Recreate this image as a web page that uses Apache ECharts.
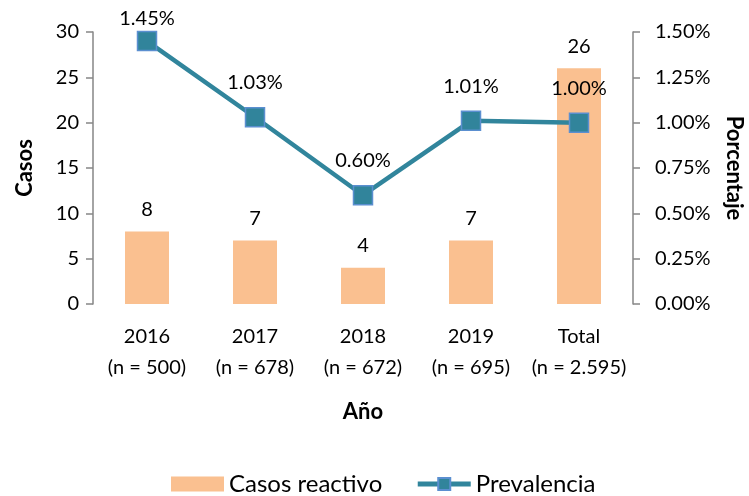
<!DOCTYPE html>
<html>
<head>
<meta charset="utf-8">
<script src="https://cdn.jsdelivr.net/npm/echarts@6/dist/echarts.min.js"></script>
<style>
  html, body { margin: 0; padding: 0; background: #fff; }
  #chart { width: 749px; height: 496px; }
</style>
</head>
<body>
<div id="chart"></div>
<script>
// Categories, sample sizes and values
const years = ['2016', '2017', '2018', '2019', 'Total'];
const sampleSizes = ['500', '678', '672', '695', '2.595'];
const casosReactivo = [8, 7, 4, 7, 26];
const prevalencia = [1.45, 1.03, 0.60, 1.01, 1.00];

const FONT = 'Lato';
const categories = years.map((y, i) => y + '\n(n = ' + sampleSizes[i] + ')');

// The first point sits at the top of the plot, so its label hugs the marker
const prevalenciaData = prevalencia.map((v, i) =>
  i === 0 ? { value: v, label: { distance: 2 } } : v
);

const chart = echarts.init(document.getElementById('chart'));
chart.setOption({
  animation: false,
  textStyle: { fontFamily: FONT, color: '#000' },
  grid: {
    left: 93, right: 116, top: 32, bottom: 192,
    containLabel: false,
    outerBoundsMode: 'none'
  },
  legend: {
    top: 472,
    left: 171,
    padding: 0,
    itemGap: 33,
    itemWidth: 53,
    itemHeight: 15,
    textStyle: { fontFamily: FONT, fontSize: 24, lineHeight: 24, color: '#000' },
    data: [
      { name: 'Casos reactivo', icon: 'rect' },
      { name: 'Prevalencia', lineStyle: { width: 5 } }
    ]
  },
  xAxis: {
    type: 'category',
    data: categories,
    name: 'Año',
    nameLocation: 'middle',
    nameGap: 97,
    nameTextStyle: { fontFamily: FONT, fontSize: 22, fontWeight: 'bold', color: '#000' },
    axisLine: { show: false },
    axisTick: { show: false },
    axisLabel: { interval: 0, fontFamily: FONT, fontSize: 20, color: '#000', lineHeight: 31, margin: 17 }
  },
  yAxis: [
    {
      type: 'value',
      min: 0, max: 30, interval: 5,
      name: 'Casos',
      nameLocation: 'middle',
      nameGap: 57,
      nameRotate: 90,
      nameTextStyle: { fontFamily: FONT, fontSize: 22, fontWeight: 'bold', color: '#000' },
      axisLine: { show: true, lineStyle: { color: '#868686', width: 1.5 } },
      axisTick: { show: true, length: 7, lineStyle: { color: '#868686', width: 1.5 } },
      splitLine: { show: false },
      axisLabel: { fontFamily: FONT, fontSize: 20, color: '#000', margin: 14 }
    },
    {
      type: 'value',
      min: 0, max: 1.5, interval: 0.25,
      name: 'Porcentaje',
      nameLocation: 'middle',
      nameGap: 90,
      nameRotate: -90,
      nameTextStyle: { fontFamily: FONT, fontSize: 22, fontWeight: 'bold', color: '#000' },
      axisLine: { show: true, lineStyle: { color: '#868686', width: 1.5 } },
      axisTick: { show: true, length: 7, lineStyle: { color: '#868686', width: 1.5 } },
      splitLine: { show: false },
      axisLabel: {
        fontFamily: FONT, fontSize: 20, color: '#000', margin: 22,
        formatter: v => v.toFixed(2) + '%'
      }
    }
  ],
  series: [
    {
      name: 'Casos reactivo',
      type: 'bar',
      yAxisIndex: 0,
      data: casosReactivo,
      barWidth: 44,
      itemStyle: { color: '#FAC090' },
      label: {
        show: true, position: 'top', distance: 12,
        fontFamily: FONT, fontSize: 20, color: '#000'
      },
      z: 1
    },
    {
      name: 'Prevalencia',
      type: 'line',
      yAxisIndex: 1,
      data: prevalenciaData,
      symbol: 'rect',
      symbolSize: 19,
      lineStyle: { color: '#31859C', width: 4.5 },
      itemStyle: { color: '#31849B', borderColor: '#5B8FD0', borderWidth: 1.5 },
      label: {
        show: true, position: 'top', distance: 14,
        fontFamily: FONT, fontSize: 20, color: '#000',
        formatter: p => p.value.toFixed(2) + '%'
      },
      z: 3
    }
  ]
});
</script>
</body>
</html>
